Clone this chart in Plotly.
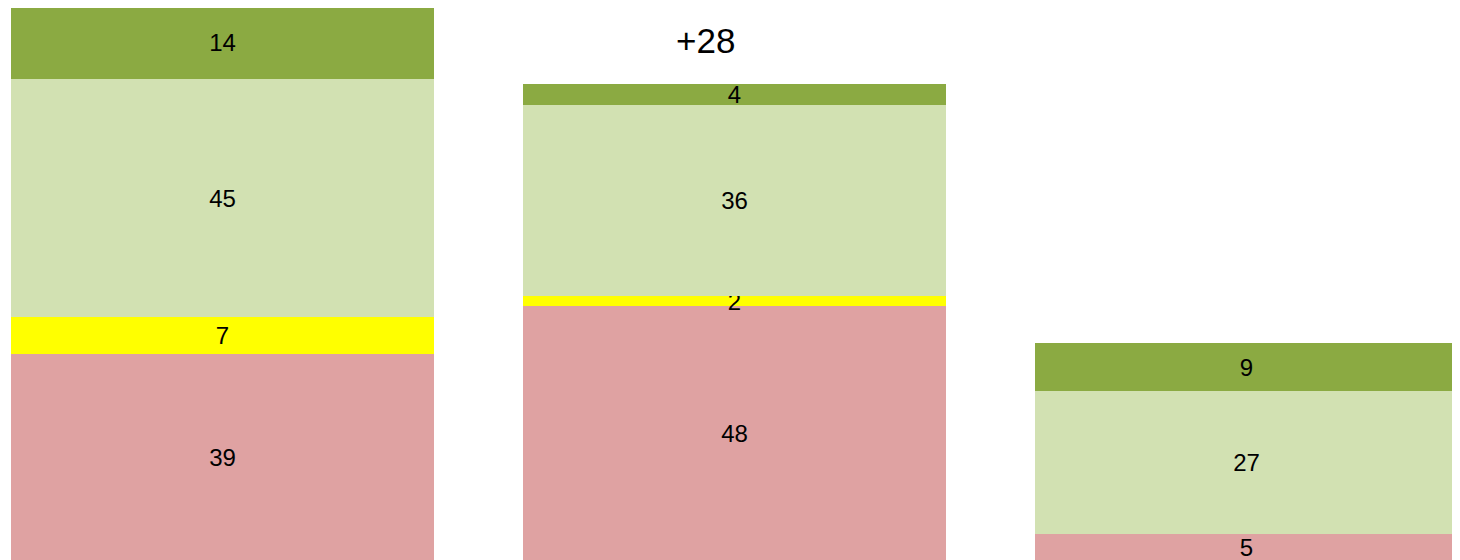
import plotly.graph_objects as go

categories = ["A", "B", "C"]
red_vals = [39, 48, 5]
yellow_vals = [7, 2, 0]
lightgreen_vals = [45, 36, 27]
darkgreen_vals = [14, 4, 9]
delta_label = "+28"

series = [
    ("red", red_vals, "#DFA2A2"),
    ("yellow", yellow_vals, "#FFFF00"),
    ("lightgreen", lightgreen_vals, "#D2E1B2"),
    ("darkgreen", darkgreen_vals, "#8BAA42"),
]

fig = go.Figure()
for name, vals, color in series:
    fig.add_trace(go.Bar(
        x=categories,
        y=vals,
        name=name,
        marker=dict(color=color, line=dict(width=0)),
        text=[str(v) if v else "" for v in vals],
        textposition="inside",
        insidetextanchor="middle",
        constraintext="none",
        textangle=0,
        textfont=dict(color="black", size=24, family="Liberation Sans, Arial"),
        width=0.826,
        hoverinfo="skip",
    ))

totals = [r + y + l + d for r, y, l, d in zip(red_vals, yellow_vals, lightgreen_vals, darkgreen_vals)]

fig.add_annotation(
    x=categories[1], y=totals[1],
    text=delta_label,
    showarrow=False,
    xanchor="center", yanchor="bottom",
    xshift=-29, yshift=22,
    font=dict(size=35, color="black", family="Liberation Sans, Arial"),
)

fig.update_layout(
    barmode="stack",
    width=1452, height=552,
    margin=dict(l=0, r=0, t=0, b=0),
    paper_bgcolor="white",
    plot_bgcolor="white",
    showlegend=False,
    bargap=0,
    xaxis=dict(visible=False, range=[-0.419, 2.417]),
    yaxis=dict(visible=False, range=[0, 104.35]),
)

fig.write_html("out.html")
